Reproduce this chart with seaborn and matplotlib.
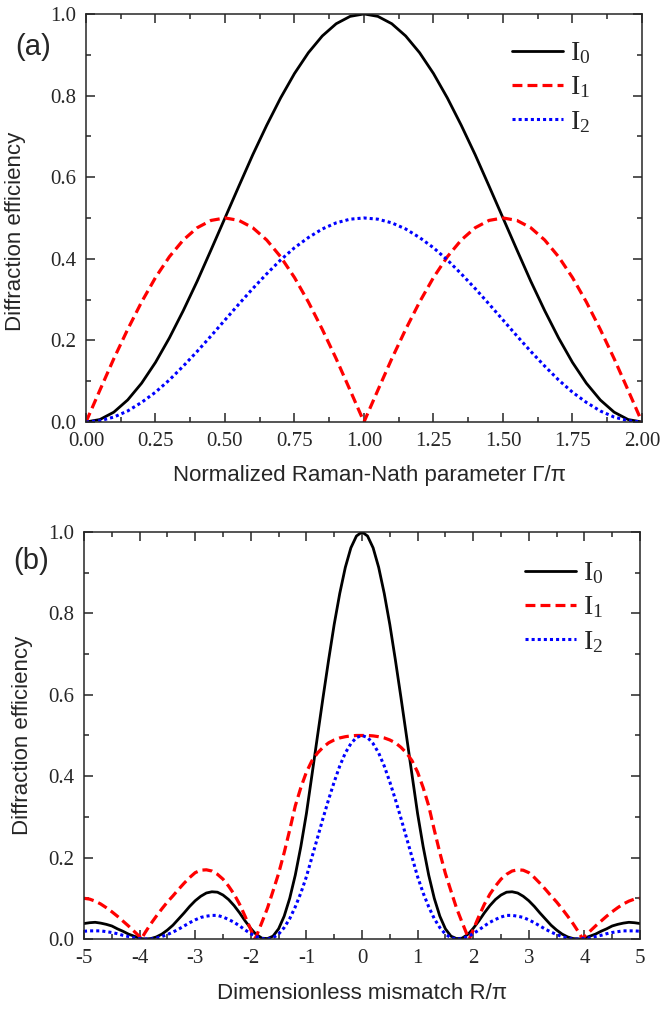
import numpy as np
import pandas as pd
import matplotlib
matplotlib.use("Agg")
import matplotlib.pyplot as plt
import seaborn as sns
from matplotlib.ticker import MultipleLocator, FormatStrFormatter

# panel (a): values read for Gamma/pi = 0 .. 1, the curves mirror about Gamma/pi = 1
gamma_half = [0.00, 0.05, 0.10, 0.15, 0.20, 0.25, 0.30, 0.35, 0.40, 0.45, 0.50,
              0.55, 0.60, 0.65, 0.70, 0.75, 0.80, 0.85, 0.90, 0.95, 1.00]
a_i0_half = [0.000, 0.006, 0.024, 0.054, 0.095, 0.146, 0.206, 0.273, 0.345, 0.422, 0.500,
             0.578, 0.655, 0.727, 0.794, 0.854, 0.905, 0.946, 0.976, 0.994, 1.000]
a_i1_half = [0.000, 0.078, 0.155, 0.227, 0.294, 0.354, 0.405, 0.446, 0.476, 0.494, 0.500,
             0.494, 0.476, 0.446, 0.405, 0.354, 0.294, 0.227, 0.155, 0.078, 0.000]
a_i2_half = [0.000, 0.003, 0.012, 0.027, 0.048, 0.073, 0.103, 0.137, 0.173, 0.211, 0.250,
             0.289, 0.327, 0.363, 0.397, 0.427, 0.452, 0.473, 0.488, 0.497, 0.500]

# panel (b): values read for R/pi = 0 .. 5, the curves mirror about R/pi = 0
r_half = [0.0, 0.1, 0.2, 0.3, 0.4, 0.5, 0.6, 0.7, 0.8, 0.9,
          1.0, 1.1, 1.2, 1.3, 1.4, 1.5, 1.6, 1.7, 1.8, 1.9,
          1.93,
          2.0, 2.1, 2.2, 2.3, 2.4, 2.5, 2.6, 2.7, 2.8, 2.9,
          3.0, 3.1, 3.2, 3.3, 3.4, 3.5, 3.6, 3.7, 3.8, 3.9,
          3.97,
          4.0, 4.1, 4.2, 4.3, 4.4, 4.5, 4.6, 4.7, 4.8, 4.9, 5.0]
b_i0_half = [1.000, 0.990, 0.961, 0.913, 0.849, 0.773, 0.686, 0.594, 0.499, 0.403,
             0.308, 0.227, 0.157, 0.100, 0.056, 0.025, 0.007, 0.001, 0.002, 0.011,
             0.015,
             0.026, 0.044, 0.064, 0.082, 0.097, 0.108, 0.115, 0.116, 0.113, 0.105,
             0.094, 0.080, 0.064, 0.049, 0.034, 0.022, 0.012, 0.005, 0.001, 0.000,
             0.001,
             0.002, 0.007, 0.012, 0.019, 0.025, 0.032, 0.036, 0.039, 0.041, 0.040, 0.038]
b_i1_half = [0.500, 0.500, 0.499, 0.497, 0.494, 0.489, 0.482, 0.471, 0.457, 0.438,
             0.410, 0.372, 0.327, 0.268, 0.212, 0.161, 0.118, 0.076, 0.041, 0.007,
             0.000,
             0.023, 0.055, 0.085, 0.110, 0.130, 0.147, 0.159, 0.167, 0.170, 0.169,
             0.163, 0.151, 0.137, 0.122, 0.106, 0.091, 0.074, 0.056, 0.037, 0.016,
             0.000,
             0.006, 0.019, 0.032, 0.044, 0.056, 0.067, 0.077, 0.086, 0.093, 0.098, 0.100]
b_i2_half = [0.500, 0.495, 0.480, 0.457, 0.425, 0.386, 0.343, 0.297, 0.249, 0.201,
             0.153, 0.113, 0.079, 0.050, 0.028, 0.012, 0.003, 0.000, 0.001, 0.006,
             0.008,
             0.013, 0.022, 0.032, 0.041, 0.048, 0.054, 0.058, 0.058, 0.056, 0.053,
             0.047, 0.040, 0.032, 0.024, 0.017, 0.011, 0.006, 0.002, 0.000, 0.000,
             0.001,
             0.001, 0.003, 0.006, 0.009, 0.013, 0.016, 0.018, 0.020, 0.020, 0.020, 0.019]

order_labels = [r"$\mathrm{I}_0$", r"$\mathrm{I}_1$", r"$\mathrm{I}_2$"]


def mirror_a(half):
    half = np.asarray(half, dtype=float)
    return np.concatenate([half, half[::-1][1:]])


def mirror_b(half):
    half = np.asarray(half, dtype=float)
    return np.concatenate([half[::-1], half[1:]])


gamma = np.concatenate([np.asarray(gamma_half), 2.0 - np.asarray(gamma_half)[::-1][1:]])
r = np.concatenate([-np.asarray(r_half)[::-1], np.asarray(r_half)[1:]])

df_a = pd.DataFrame({"x": gamma, "I0": mirror_a(a_i0_half),
                     "I1": mirror_a(a_i1_half), "I2": mirror_a(a_i2_half)})
df_b = pd.DataFrame({"x": r, "I0": mirror_b(b_i0_half),
                     "I1": mirror_b(b_i1_half), "I2": mirror_b(b_i2_half)})

sns.set_style("ticks")
plt.rcParams["font.family"] = ["Liberation Serif", "DejaVu Serif"]
plt.rcParams["mathtext.fontset"] = "custom"
plt.rcParams["mathtext.rm"] = "Liberation Serif"
plt.rcParams["mathtext.it"] = "Liberation Serif:italic"
plt.rcParams["axes.unicode_minus"] = False

styles = {
    "I0": dict(color="black", linewidth=2.0, linestyle="-"),
    "I1": dict(color="#ff0000", linewidth=2.3, linestyle=(0, (3.1, 1.6))),
    "I2": dict(color="#0000ff", linewidth=2.2, linestyle=(0, (1.0, 1.0))),
}

fig = plt.figure(figsize=(6.61, 10.10), dpi=100)
ax_a = fig.add_axes([0.1301, 0.5822, 0.8411, 0.4040])
ax_b = fig.add_axes([0.1271, 0.0703, 0.8411, 0.4030])

for ax, df in [(ax_a, df_a), (ax_b, df_b)]:
    for key, lab in zip(["I0", "I1", "I2"], order_labels):
        sns.lineplot(data=df, x="x", y=key, ax=ax, label=lab, **styles[key])

sans = "Liberation Sans"

# panel (a) axes
ax_a.set_xlim(0, 2)
ax_a.set_ylim(0, 1)
ax_a.xaxis.set_major_locator(MultipleLocator(0.25))
ax_a.xaxis.set_minor_locator(MultipleLocator(0.125))
ax_a.xaxis.set_major_formatter(FormatStrFormatter("%.2f"))
ax_a.set_xlabel("Normalized Raman-Nath parameter \u0393/\u03c0", family=sans, fontsize=16)
ax_a.xaxis.set_label_coords(0.51, -0.105)

# panel (b) axes
ax_b.set_xlim(-5, 5)
ax_b.set_ylim(0, 1)
ax_b.xaxis.set_major_locator(MultipleLocator(1))
ax_b.xaxis.set_minor_locator(MultipleLocator(0.5))
ax_b.xaxis.set_major_formatter(FormatStrFormatter("%d"))
ax_b.set_xlabel("Dimensionless mismatch R/\u03c0", family=sans, fontsize=16)
ax_b.xaxis.set_label_coords(0.5, -0.108)

for ax, tag, leg_x, leg_y, tag_y, lab_xy in [
        (ax_a, "(a)", 0.766, 0.935, 0.918, (-0.108, 0.468)),
        (ax_b, "(b)", 0.793, 0.93, 0.929, (-0.092, 0.5))]:
    ax.yaxis.set_major_locator(MultipleLocator(0.2))
    ax.yaxis.set_minor_locator(MultipleLocator(0.1))
    ax.yaxis.set_major_formatter(FormatStrFormatter("%.1f"))
    ax.set_ylabel("Diffraction efficiency", family=sans, fontsize=16)
    ax.yaxis.set_label_coords(*lab_xy)
    ax.tick_params(which="both", direction="in", top=True, right=True,
                   labelsize=15, width=1.1, pad=7)
    ax.tick_params(which="major", length=6.5)
    ax.tick_params(which="minor", length=3.5)
    for sp in ax.spines.values():
        sp.set_linewidth(1.1)
        sp.set_visible(True)
    ax.legend(loc="upper left", bbox_to_anchor=(leg_x, leg_y), frameon=False,
              fontsize=20, handlelength=1.85, handletextpad=0.25,
              labelspacing=0.3, borderpad=0, borderaxespad=0)
    ax.text(-0.128, tag_y, tag, transform=ax.transAxes, family=sans,
            fontsize=21, ha="left", va="center")

fig.savefig("out.png", dpi=100)
